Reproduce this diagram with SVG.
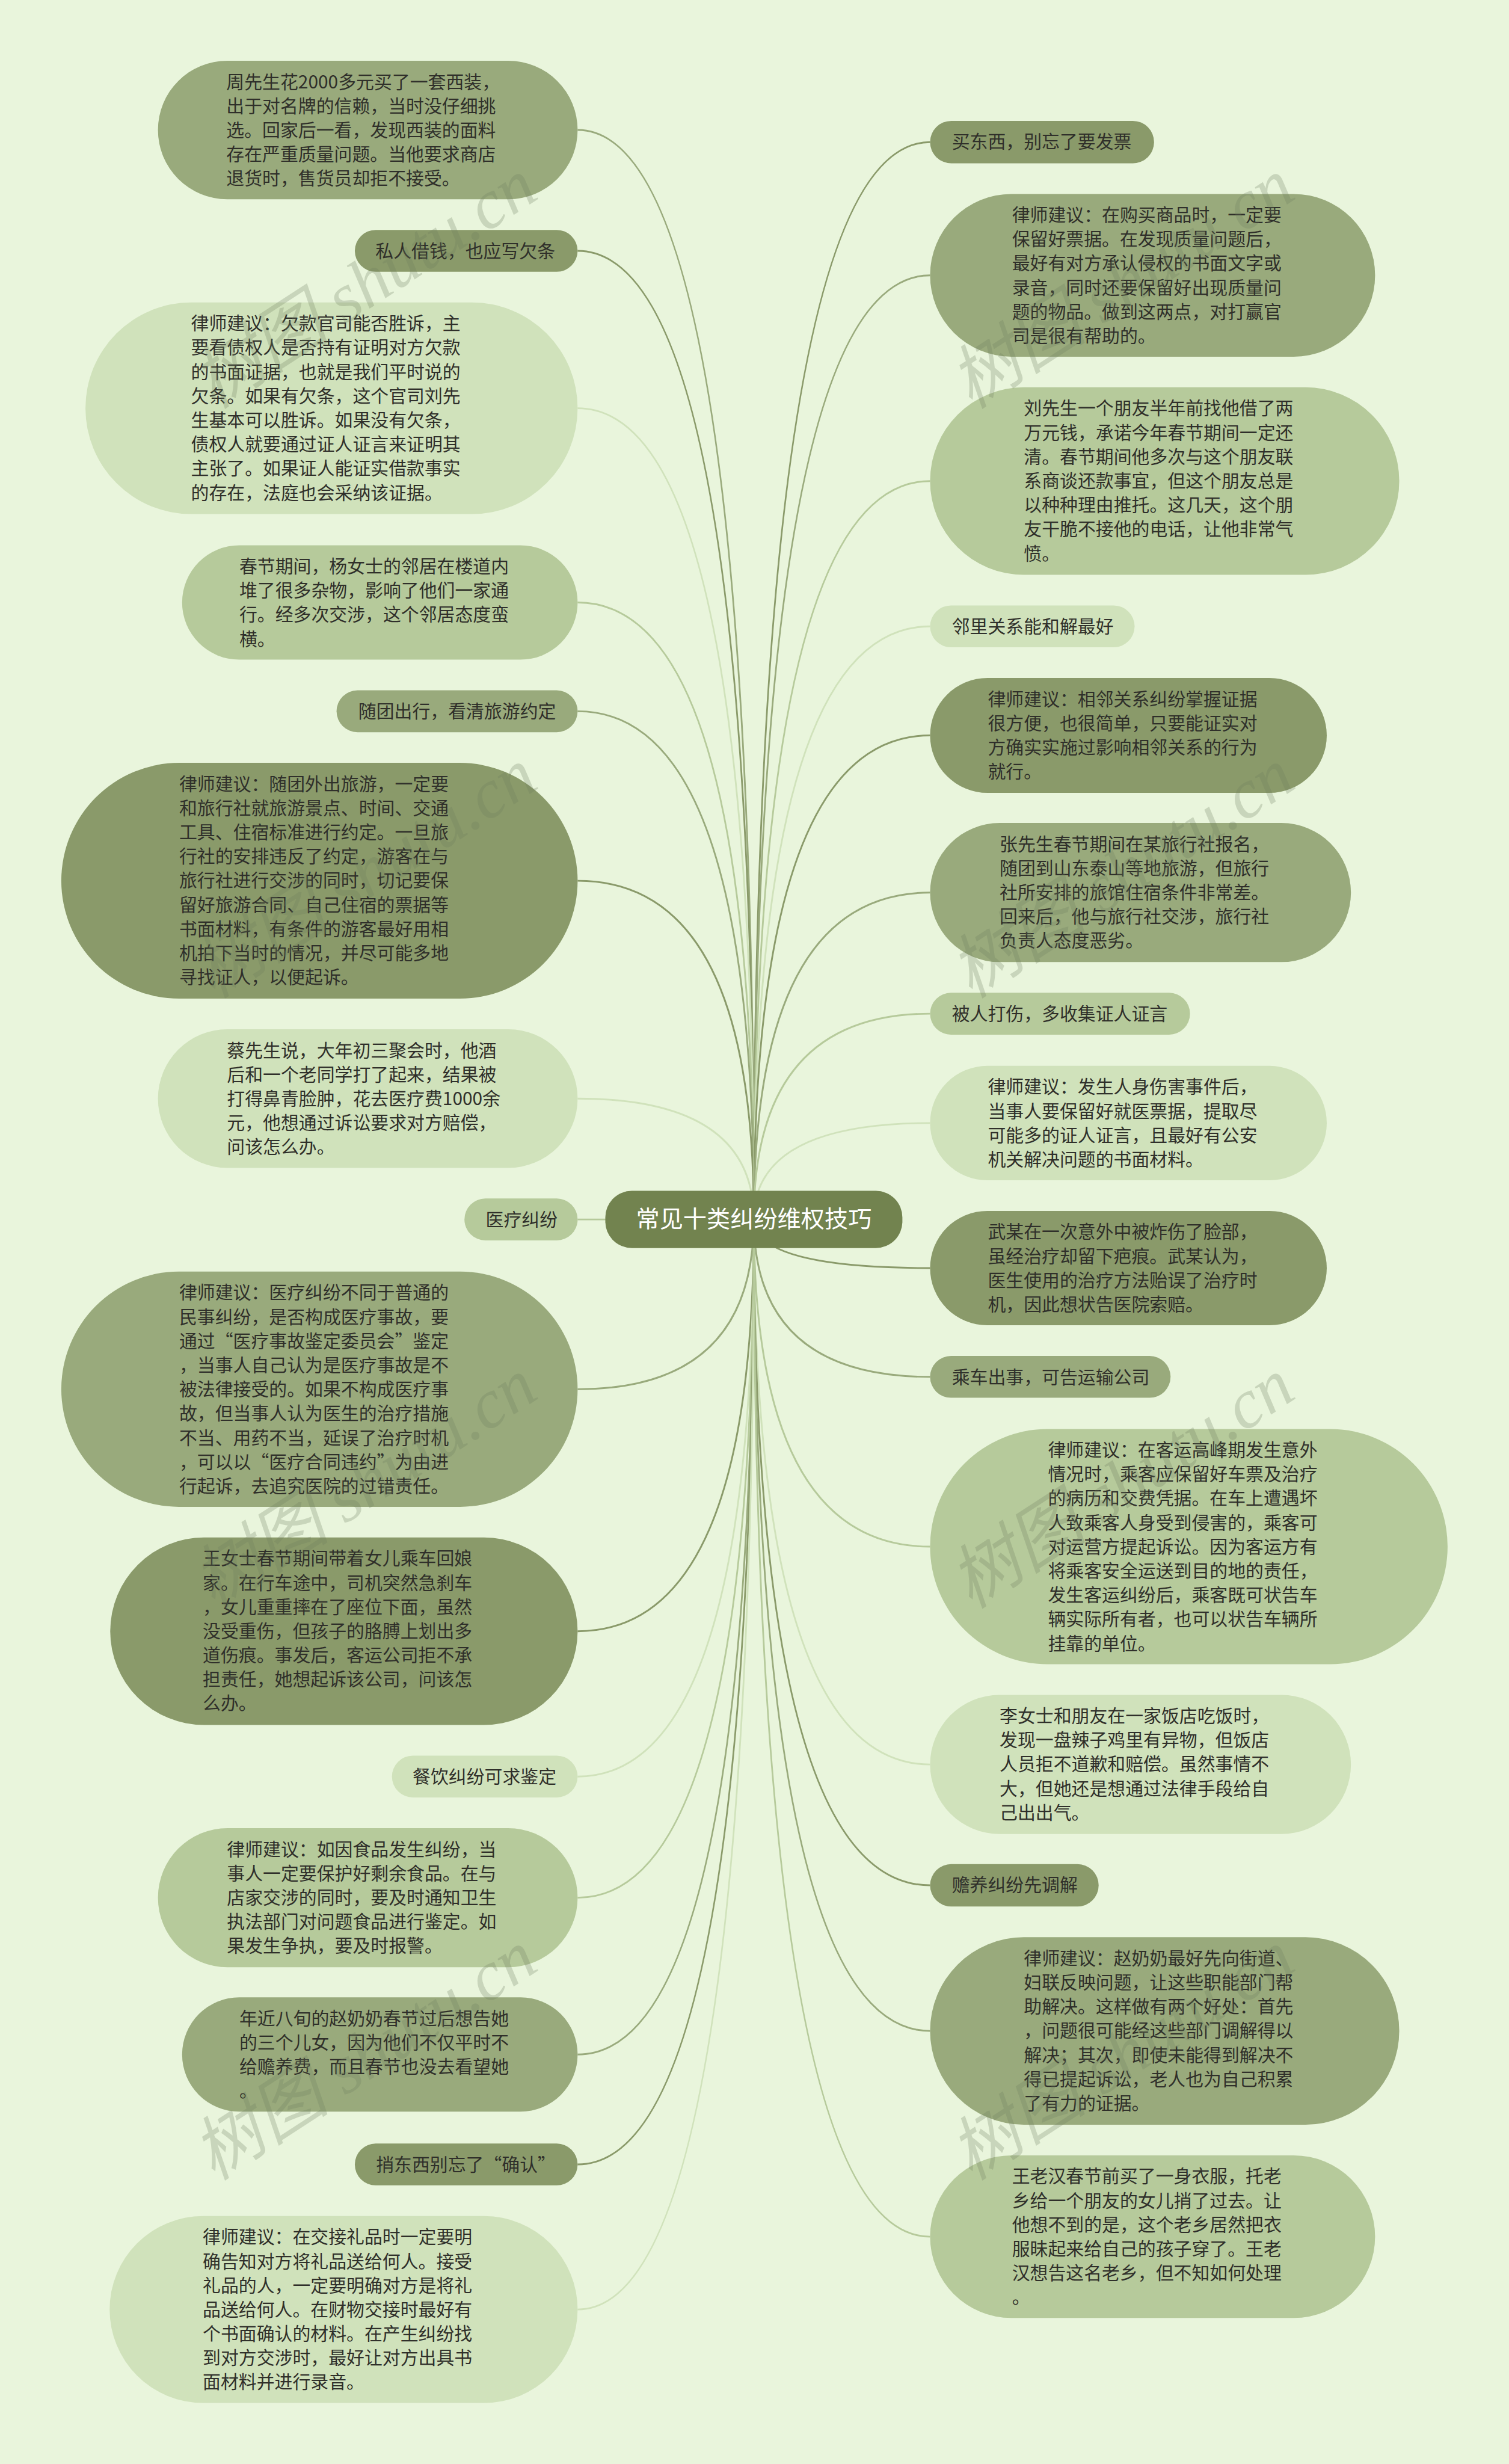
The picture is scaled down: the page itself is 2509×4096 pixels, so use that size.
<svg xmlns="http://www.w3.org/2000/svg" width="2509" height="4096" viewBox="0 0 2509 4096">
<style>
.t{font-family:"Noto Sans CJK SC","Noto Sans",sans-serif;font-size:30.5px;fill:#2f2f2a}
.root{font-family:"Noto Sans CJK SC","Noto Sans",sans-serif;font-size:40px;fill:#ffffff}
.c1{fill:#8a9a6a}.c2{fill:#99aa7c}.c3{fill:#b6ca9b}.c4{fill:#d0e2bb}
.l{fill:none;stroke-width:3}
.s1{stroke:#8a9a6a}.s2{stroke:#99aa7c}.s3{stroke:#b6ca9b}.s4{stroke:#d0e2bb}
.wm{font-family:"Liberation Serif","Noto Sans CJK SC",serif;font-style:italic;font-size:118px;fill:#6e7d5e;opacity:0.26;text-anchor:middle}
</style>
<rect x="0" y="0" width="2509" height="4096" fill="#e9f5dc"/>
<g transform="scale(0.98)">
<g id="connectors">
<path class="l s2" d="M980 220.5 Q1279 220.5 1279 2068"/>
<path class="l s1" d="M980 425.5 Q1279 425.5 1279 2068"/>
<path class="l s4" d="M980 692.5 Q1279 692.5 1279 2068"/>
<path class="l s3" d="M980 1022 Q1279 1022 1279 2068"/>
<path class="l s2" d="M980 1206.5 Q1279 1206.5 1279 2068"/>
<path class="l s1" d="M980 1494 Q1279 1494 1279 2068"/>
<path class="l s4" d="M980 1863.5 Q1279 1863.5 1279 2068"/>
<path class="l s3" d="M980 2068.5 L1279 2068.5"/>
<path class="l s2" d="M980 2356.5 Q1279 2356.5 1279 2068"/>
<path class="l s1" d="M980 2767 Q1279 2767 1279 2068"/>
<path class="l s4" d="M980 3013.5 Q1279 3013.5 1279 2068"/>
<path class="l s3" d="M980 3219 Q1279 3219 1279 2068"/>
<path class="l s2" d="M980 3485 Q1279 3485 1279 2068"/>
<path class="l s1" d="M980 3671.5 Q1279 3671.5 1279 2068"/>
<path class="l s4" d="M980 3917.5 Q1279 3917.5 1279 2068"/>
<path class="l s1" d="M1578 241 Q1279 241 1279 2068"/>
<path class="l s2" d="M1578 467 Q1279 467 1279 2068"/>
<path class="l s3" d="M1578 816 Q1279 816 1279 2068"/>
<path class="l s4" d="M1578 1062.5 Q1279 1062.5 1279 2068"/>
<path class="l s1" d="M1578 1247.5 Q1279 1247.5 1279 2068"/>
<path class="l s2" d="M1578 1514 Q1279 1514 1279 2068"/>
<path class="l s3" d="M1578 1719.5 Q1279 1719.5 1279 2068"/>
<path class="l s4" d="M1578 1905 Q1279 1905 1279 2068"/>
<path class="l s1" d="M1578 2151 Q1279 2151 1279 2068"/>
<path class="l s2" d="M1578 2335.5 Q1279 2335.5 1279 2068"/>
<path class="l s3" d="M1578 2623.5 Q1279 2623.5 1279 2068"/>
<path class="l s4" d="M1578 2993 Q1279 2993 1279 2068"/>
<path class="l s1" d="M1578 3198 Q1279 3198 1279 2068"/>
<path class="l s2" d="M1578 3445 Q1279 3445 1279 2068"/>
<path class="l s3" d="M1578 3794 Q1279 3794 1279 2068"/>
</g>
<g id="root">
<rect x="1027" y="2020" width="504" height="97" rx="45" fill="#72834f"/>
<text class="root" x="1279" y="2082" text-anchor="middle">常见十类纠纷维权技巧</text>
</g>
<g id="n-zhou">
<rect class="c2" x="268" y="103" width="712" height="235" rx="117.5"/>
<text class="t"><tspan x="384" y="149.5">周先生花2000多元买了一套西装，</tspan><tspan x="384" y="190.5">出于对名牌的信赖，当时没仔细挑</tspan><tspan x="384" y="231.5">选。回家后一看，发现西装的面料</tspan><tspan x="384" y="272.5">存在严重质量问题。当他要求商店</tspan><tspan x="384" y="313.5">退货时，售货员却拒不接受。</tspan></text>
</g>
<g id="n-jieqian">
<rect class="c1" x="602" y="390" width="378" height="71" rx="35.5"/>
<text class="t" x="637" y="436.5">私人借钱，也应写欠条</text>
</g>
<g id="n-qiankuan">
<rect class="c4" x="145" y="513" width="835" height="359" rx="179.5"/>
<text class="t"><tspan x="324" y="559.5">律师建议：欠款官司能否胜诉，主</tspan><tspan x="324" y="600.5">要看债权人是否持有证明对方欠款</tspan><tspan x="324" y="641.5">的书面证据，也就是我们平时说的</tspan><tspan x="324" y="682.5">欠条。如果有欠条，这个官司刘先</tspan><tspan x="324" y="723.5">生基本可以胜诉。如果没有欠条，</tspan><tspan x="324" y="764.5">债权人就要通过证人证言来证明其</tspan><tspan x="324" y="805.5">主张了。如果证人能证实借款事实</tspan><tspan x="324" y="846.5">的存在，法庭也会采纳该证据。</tspan></text>
</g>
<g id="n-yang">
<rect class="c3" x="309" y="925" width="671" height="194" rx="97"/>
<text class="t"><tspan x="406" y="971.5">春节期间，杨女士的邻居在楼道内</tspan><tspan x="406" y="1012.5">堆了很多杂物，影响了他们一家通</tspan><tspan x="406" y="1053.5">行。经多次交涉，这个邻居态度蛮</tspan><tspan x="406" y="1094.5">横。</tspan></text>
</g>
<g id="n-suituan">
<rect class="c2" x="571" y="1171" width="409" height="71" rx="35.5"/>
<text class="t" x="608" y="1217.5">随团出行，看清旅游约定</text>
</g>
<g id="n-lvyou">
<rect class="c1" x="104" y="1294" width="876" height="400" rx="200"/>
<text class="t"><tspan x="304" y="1340.5">律师建议：随团外出旅游，一定要</tspan><tspan x="304" y="1381.5">和旅行社就旅游景点、时间、交通</tspan><tspan x="304" y="1422.5">工具、住宿标准进行约定。一旦旅</tspan><tspan x="304" y="1463.5">行社的安排违反了约定，游客在与</tspan><tspan x="304" y="1504.5">旅行社进行交涉的同时，切记要保</tspan><tspan x="304" y="1545.5">留好旅游合同、自己住宿的票据等</tspan><tspan x="304" y="1586.5">书面材料，有条件的游客最好用相</tspan><tspan x="304" y="1627.5">机拍下当时的情况，并尽可能多地</tspan><tspan x="304" y="1668.5">寻找证人，以便起诉。</tspan></text>
</g>
<g id="n-cai">
<rect class="c4" x="268" y="1746" width="712" height="235" rx="117.5"/>
<text class="t"><tspan x="385" y="1792.5">蔡先生说，大年初三聚会时，他酒</tspan><tspan x="385" y="1833.5">后和一个老同学打了起来，结果被</tspan><tspan x="385" y="1874.5">打得鼻青脸肿，花去医疗费1000余</tspan><tspan x="385" y="1915.5">元，他想通过诉讼要求对方赔偿，</tspan><tspan x="385" y="1956.5">问该怎么办。</tspan></text>
</g>
<g id="n-yiliao">
<rect class="c3" x="788" y="2033" width="192" height="71" rx="35.5"/>
<text class="t" x="824" y="2079.5">医疗纠纷</text>
</g>
<g id="n-yiliao-ls">
<rect class="c2" x="104" y="2157" width="876" height="399" rx="199.5"/>
<text class="t"><tspan x="304" y="2203.5">律师建议：医疗纠纷不同于普通的</tspan><tspan x="304" y="2244.5">民事纠纷，是否构成医疗事故，要</tspan><tspan x="304" y="2285.5">通过“医疗事故鉴定委员会”鉴定</tspan><tspan x="304" y="2326.5">，当事人自己认为是医疗事故是不</tspan><tspan x="304" y="2367.5">被法律接受的。如果不构成医疗事</tspan><tspan x="304" y="2408.5">故，但当事人认为医生的治疗措施</tspan><tspan x="304" y="2449.5">不当、用药不当，延误了治疗时机</tspan><tspan x="304" y="2490.5">，可以以“医疗合同违约”为由进</tspan><tspan x="304" y="2531.5">行起诉，去追究医院的过错责任。</tspan></text>
</g>
<g id="n-wang">
<rect class="c1" x="187" y="2608" width="793" height="318" rx="159"/>
<text class="t"><tspan x="344" y="2654.5">王女士春节期间带着女儿乘车回娘</tspan><tspan x="344" y="2695.5">家。在行车途中，司机突然急刹车</tspan><tspan x="344" y="2736.5">，女儿重重摔在了座位下面，虽然</tspan><tspan x="344" y="2777.5">没受重伤，但孩子的胳膊上划出多</tspan><tspan x="344" y="2818.5">道伤痕。事发后，客运公司拒不承</tspan><tspan x="344" y="2859.5">担责任，她想起诉该公司，问该怎</tspan><tspan x="344" y="2900.5">么办。</tspan></text>
</g>
<g id="n-canyin">
<rect class="c4" x="665" y="2978" width="315" height="71" rx="35.5"/>
<text class="t" x="700" y="3024.5">餐饮纠纷可求鉴定</text>
</g>
<g id="n-shipin">
<rect class="c3" x="268" y="3101" width="712" height="236" rx="118"/>
<text class="t"><tspan x="385" y="3147.5">律师建议：如因食品发生纠纷，当</tspan><tspan x="385" y="3188.5">事人一定要保护好剩余食品。在与</tspan><tspan x="385" y="3229.5">店家交涉的同时，要及时通知卫生</tspan><tspan x="385" y="3270.5">执法部门对问题食品进行鉴定。如</tspan><tspan x="385" y="3311.5">果发生争执，要及时报警。</tspan></text>
</g>
<g id="n-zhao">
<rect class="c2" x="309" y="3388" width="671" height="194" rx="97"/>
<text class="t"><tspan x="406" y="3434.5">年近八旬的赵奶奶春节过后想告她</tspan><tspan x="406" y="3475.5">的三个儿女，因为他们不仅平时不</tspan><tspan x="406" y="3516.5">给赡养费，而且春节也没去看望她</tspan><tspan x="406" y="3557.5">。</tspan></text>
</g>
<g id="n-shao">
<rect class="c1" x="602" y="3636" width="378" height="71" rx="35.5"/>
<text class="t" x="638" y="3682.5">捎东西别忘了“确认”</text>
</g>
<g id="n-liping">
<rect class="c4" x="186" y="3759" width="794" height="317" rx="158.5"/>
<text class="t"><tspan x="344" y="3805.5">律师建议：在交接礼品时一定要明</tspan><tspan x="344" y="3846.5">确告知对方将礼品送给何人。接受</tspan><tspan x="344" y="3887.5">礼品的人，一定要明确对方是将礼</tspan><tspan x="344" y="3928.5">品送给何人。在财物交接时最好有</tspan><tspan x="344" y="3969.5">个书面确认的材料。在产生纠纷找</tspan><tspan x="344" y="4010.5">到对方交涉时，最好让对方出具书</tspan><tspan x="344" y="4051.5">面材料并进行录音。</tspan></text>
</g>
<g id="n-fapiao">
<rect class="c1" x="1578" y="205" width="380" height="72" rx="36"/>
<text class="t" x="1615" y="251.5">买东西，别忘了要发票</text>
</g>
<g id="n-goumai">
<rect class="c2" x="1578" y="329" width="755" height="276" rx="138"/>
<text class="t"><tspan x="1717" y="375.5">律师建议：在购买商品时，一定要</tspan><tspan x="1717" y="416.5">保留好票据。在发现质量问题后，</tspan><tspan x="1717" y="457.5">最好有对方承认侵权的书面文字或</tspan><tspan x="1717" y="498.5">录音，同时还要保留好出现质量问</tspan><tspan x="1717" y="539.5">题的物品。做到这两点，对打赢官</tspan><tspan x="1717" y="580.5">司是很有帮助的。</tspan></text>
</g>
<g id="n-liu">
<rect class="c3" x="1578" y="657" width="796" height="318" rx="159"/>
<text class="t"><tspan x="1737" y="703.5">刘先生一个朋友半年前找他借了两</tspan><tspan x="1737" y="744.5">万元钱，承诺今年春节期间一定还</tspan><tspan x="1737" y="785.5">清。春节期间他多次与这个朋友联</tspan><tspan x="1737" y="826.5">系商谈还款事宜，但这个朋友总是</tspan><tspan x="1737" y="867.5">以种种理由推托。这几天，这个朋</tspan><tspan x="1737" y="908.5">友干脆不接他的电话，让他非常气</tspan><tspan x="1737" y="949.5">愤。</tspan></text>
</g>
<g id="n-linli">
<rect class="c4" x="1578" y="1027" width="347" height="71" rx="35.5"/>
<text class="t" x="1615" y="1073.5">邻里关系能和解最好</text>
</g>
<g id="n-xianglin">
<rect class="c1" x="1578" y="1150" width="673" height="195" rx="97.5"/>
<text class="t"><tspan x="1676" y="1196.5">律师建议：相邻关系纠纷掌握证据</tspan><tspan x="1676" y="1237.5">很方便，也很简单，只要能证实对</tspan><tspan x="1676" y="1278.5">方确实实施过影响相邻关系的行为</tspan><tspan x="1676" y="1319.5">就行。</tspan></text>
</g>
<g id="n-zhang">
<rect class="c2" x="1578" y="1396" width="714" height="236" rx="118"/>
<text class="t"><tspan x="1696" y="1442.5">张先生春节期间在某旅行社报名，</tspan><tspan x="1696" y="1483.5">随团到山东泰山等地旅游，但旅行</tspan><tspan x="1696" y="1524.5">社所安排的旅馆住宿条件非常差。</tspan><tspan x="1696" y="1565.5">回来后，他与旅行社交涉，旅行社</tspan><tspan x="1696" y="1606.5">负责人态度恶劣。</tspan></text>
</g>
<g id="n-dashang">
<rect class="c3" x="1578" y="1684" width="441" height="71" rx="35.5"/>
<text class="t" x="1615" y="1730.5">被人打伤，多收集证人证言</text>
</g>
<g id="n-renshen">
<rect class="c4" x="1578" y="1808" width="673" height="194" rx="97"/>
<text class="t"><tspan x="1676" y="1854.5">律师建议：发生人身伤害事件后，</tspan><tspan x="1676" y="1895.5">当事人要保留好就医票据，提取尽</tspan><tspan x="1676" y="1936.5">可能多的证人证言，且最好有公安</tspan><tspan x="1676" y="1977.5">机关解决问题的书面材料。</tspan></text>
</g>
<g id="n-wu">
<rect class="c1" x="1578" y="2054" width="673" height="194" rx="97"/>
<text class="t"><tspan x="1676" y="2100.5">武某在一次意外中被炸伤了脸部，</tspan><tspan x="1676" y="2141.5">虽经治疗却留下疤痕。武某认为，</tspan><tspan x="1676" y="2182.5">医生使用的治疗方法贻误了治疗时</tspan><tspan x="1676" y="2223.5">机，因此想状告医院索赔。</tspan></text>
</g>
<g id="n-chengche">
<rect class="c2" x="1578" y="2300" width="408" height="71" rx="35.5"/>
<text class="t" x="1615" y="2346.5">乘车出事，可告运输公司</text>
</g>
<g id="n-keyun">
<rect class="c3" x="1578" y="2424" width="878" height="399" rx="199.5"/>
<text class="t"><tspan x="1778" y="2470.5">律师建议：在客运高峰期发生意外</tspan><tspan x="1778" y="2511.5">情况时，乘客应保留好车票及治疗</tspan><tspan x="1778" y="2552.5">的病历和交费凭据。在车上遭遇坏</tspan><tspan x="1778" y="2593.5">人致乘客人身受到侵害的，乘客可</tspan><tspan x="1778" y="2634.5">对运营方提起诉讼。因为客运方有</tspan><tspan x="1778" y="2675.5">将乘客安全运送到目的地的责任，</tspan><tspan x="1778" y="2716.5">发生客运纠纷后，乘客既可状告车</tspan><tspan x="1778" y="2757.5">辆实际所有者，也可以状告车辆所</tspan><tspan x="1778" y="2798.5">挂靠的单位。</tspan></text>
</g>
<g id="n-li">
<rect class="c4" x="1578" y="2875" width="714" height="236" rx="118"/>
<text class="t"><tspan x="1696" y="2921.5">李女士和朋友在一家饭店吃饭时，</tspan><tspan x="1696" y="2962.5">发现一盘辣子鸡里有异物，但饭店</tspan><tspan x="1696" y="3003.5">人员拒不道歉和赔偿。虽然事情不</tspan><tspan x="1696" y="3044.5">大，但她还是想通过法律手段给自</tspan><tspan x="1696" y="3085.5">己出出气。</tspan></text>
</g>
<g id="n-shanyang">
<rect class="c1" x="1578" y="3162" width="286" height="72" rx="36"/>
<text class="t" x="1615" y="3208.5">赡养纠纷先调解</text>
</g>
<g id="n-zhao-ls">
<rect class="c2" x="1578" y="3286" width="796" height="318" rx="159"/>
<text class="t"><tspan x="1737" y="3332.5">律师建议：赵奶奶最好先向街道、</tspan><tspan x="1737" y="3373.5">妇联反映问题，让这些职能部门帮</tspan><tspan x="1737" y="3414.5">助解决。这样做有两个好处：首先</tspan><tspan x="1737" y="3455.5">，问题很可能经这些部门调解得以</tspan><tspan x="1737" y="3496.5">解决；其次，即使未能得到解决不</tspan><tspan x="1737" y="3537.5">得已提起诉讼，老人也为自己积累</tspan><tspan x="1737" y="3578.5">了有力的证据。</tspan></text>
</g>
<g id="n-laohan">
<rect class="c3" x="1578" y="3656" width="755" height="276" rx="138"/>
<text class="t"><tspan x="1717" y="3702.5">王老汉春节前买了一身衣服，托老</tspan><tspan x="1717" y="3743.5">乡给一个朋友的女儿捎了过去。让</tspan><tspan x="1717" y="3784.5">他想不到的是，这个老乡居然把衣</tspan><tspan x="1717" y="3825.5">服昧起来给自己的孩子穿了。王老</tspan><tspan x="1717" y="3866.5">汉想告这名老乡，但不知如何处理</tspan><tspan x="1717" y="3907.5">。</tspan></text>
</g>
<g id="watermark">
<text class="wm" transform="translate(640 515) rotate(-33)">树图 shutu.cn</text>
<text class="wm" transform="translate(1925 515) rotate(-33)">树图 shutu.cn</text>
<text class="wm" transform="translate(640 1515) rotate(-33)">树图 shutu.cn</text>
<text class="wm" transform="translate(1925 1515) rotate(-33)">树图 shutu.cn</text>
<text class="wm" transform="translate(640 2550) rotate(-33)">树图 shutu.cn</text>
<text class="wm" transform="translate(1925 2550) rotate(-33)">树图 shutu.cn</text>
<text class="wm" transform="translate(640 3520) rotate(-33)">树图 shutu.cn</text>
<text class="wm" transform="translate(1925 3520) rotate(-33)">树图 shutu.cn</text>
</g>
</g>
</svg>
